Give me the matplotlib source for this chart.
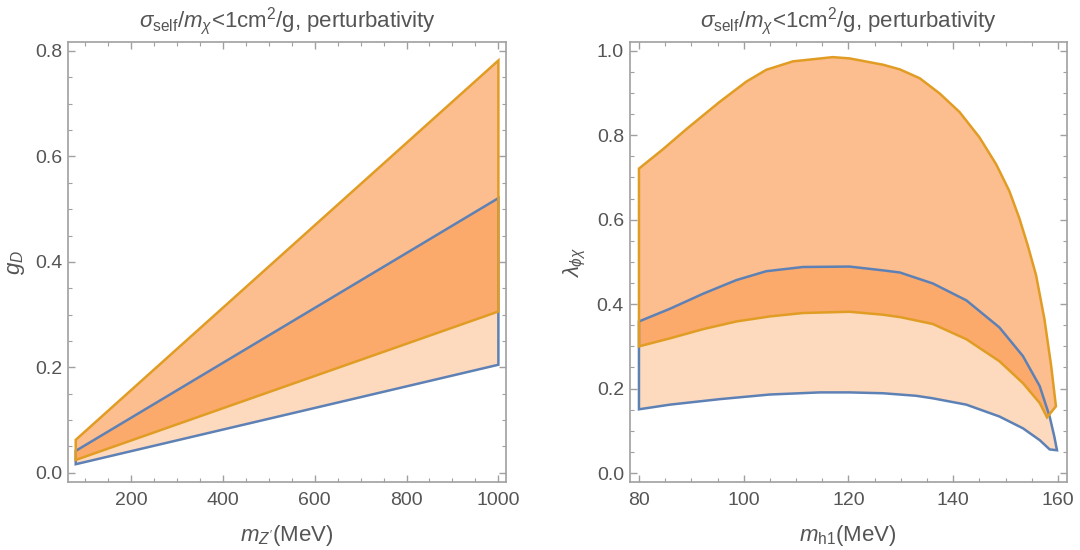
import matplotlib
matplotlib.use('Agg')
import matplotlib.pyplot as plt
import numpy as np
from matplotlib.ticker import MultipleLocator

plt.rcParams['font.family'] = ['Liberation Sans', 'DejaVu Sans']
plt.rcParams['mathtext.fontset'] = 'custom'
plt.rcParams['mathtext.rm'] = 'Liberation Sans'
plt.rcParams['mathtext.it'] = 'Liberation Sans:italic'

# left panel: g_D against m_Z' (straight boundaries, endpoints only)
mz = [80, 1000]
gd_blue_lo = [0.0164, 0.205]
gd_blue_hi = [0.0417, 0.521]
gd_orange_lo = [0.0245, 0.306]
gd_orange_hi = [0.0626, 0.782]

# right panel: lambda_phichi against m_h1
mh_blue_lo = [80, 85.9, 95.4, 105, 114.5, 120.2, 126.6, 132.9, 136.1, 142.5,
              148.8, 153.3, 156.5, 158.4, 159.8]
lam_blue_lo = [0.151, 0.162, 0.175, 0.186, 0.191, 0.191, 0.189, 0.183, 0.177,
               0.162, 0.134, 0.106, 0.078, 0.056, 0.054]
mh_blue_hi = [80, 85.9, 92.3, 98.6, 104.3, 111.3, 120.2, 126.6, 129.8, 136.1,
              142.5, 148.8, 153.3, 156.5, 158.4, 159.3, 159.8]
lam_blue_hi = [0.359, 0.389, 0.425, 0.457, 0.478, 0.488, 0.489, 0.480, 0.475,
               0.449, 0.409, 0.345, 0.277, 0.206, 0.134, 0.086, 0.054]
mh_orange_lo = [80, 85.9, 92.3, 98.6, 105, 111.3, 120.2, 126.6, 130, 136.1,
                142.5, 148.8, 153.3, 156.5, 157.9, 159.6]
lam_orange_lo = [0.300, 0.319, 0.341, 0.359, 0.371, 0.379, 0.382, 0.375, 0.369,
                 0.353, 0.317, 0.265, 0.213, 0.166, 0.132, 0.158]
mh_orange_hi = [80, 84.6, 89.1, 95.4, 100.5, 104.3, 109.4, 117.0, 120.2, 126.6,
                129.8, 133.6, 137.4, 141.2, 145.0, 148.2, 150.7, 152.6, 154.2,
                155.8, 157.4, 158.7, 159.6]
lam_orange_hi = [0.721, 0.767, 0.815, 0.879, 0.927, 0.955, 0.975, 0.985, 0.982,
                 0.967, 0.956, 0.935, 0.899, 0.855, 0.795, 0.731, 0.668, 0.604,
                 0.540, 0.469, 0.365, 0.253, 0.158]

TITLE = r'$\sigma_{\rm self}/m_\chi$<1cm$^2$/g, perturbativity'

FILL = '#fa7814'
BLUE = '#5e81b5'
ORANGE = '#e19c24'
GREY_TXT = '#555555'
GREY_FRAME = '#a0a0a0'


def region(ax, x_lo, y_lo, x_hi, y_hi, alpha):
    xs = np.r_[x_lo, x_hi[::-1]]
    ys = np.r_[y_lo, y_hi[::-1]]
    ax.fill(xs, ys, facecolor=FILL, alpha=alpha, edgecolor='none')
    return xs, ys


def style(ax, xmaj, xmin, ymaj, ymin):
    ax.xaxis.set_major_locator(MultipleLocator(xmaj))
    ax.xaxis.set_minor_locator(MultipleLocator(xmin))
    ax.yaxis.set_major_locator(MultipleLocator(ymaj))
    ax.yaxis.set_minor_locator(MultipleLocator(ymin))
    ax.tick_params(which='both', direction='in', top=True, right=True,
                   color=GREY_FRAME, labelcolor=GREY_TXT, labelsize=14)
    ax.tick_params(which='major', length=5, width=1)
    ax.tick_params(which='minor', length=3, width=0.8)
    ax.tick_params(axis='x', which='major', pad=7)
    ax.tick_params(axis='y', which='major', pad=4)
    for s in ax.spines.values():
        s.set_color(GREY_FRAME)
        s.set_linewidth(1.2)
    ax.set_title(TITLE, color=GREY_TXT, fontsize=16, pad=11)


fig = plt.figure(figsize=(10.8, 5.5), dpi=100)
ax1 = fig.add_axes([0.0628, 0.123, 0.4059, 0.8006])
ax2 = fig.add_axes([0.5829, 0.123, 0.405, 0.8])

# left
bx, by = region(ax1, mz, gd_blue_lo, mz, gd_blue_hi, 0.28)
ox, oy = region(ax1, mz, gd_orange_lo, mz, gd_orange_hi, 0.48)
ax1.fill(bx, by, facecolor='none', edgecolor=BLUE, lw=1.8)
ax1.fill(ox, oy, facecolor='none', edgecolor=ORANGE, lw=1.8)
ax1.set_xlim(62.8, 1017)
ax1.set_ylim(-0.018, 0.817)
style(ax1, 200, 50, 0.2, 0.05)
ax1.set_xlabel(r"$m_{Z'}$(MeV)", color=GREY_TXT, fontsize=16, labelpad=10)
ax1.set_ylabel(r'$g_D$', color=GREY_TXT, fontsize=16, labelpad=6)

# right
bx, by = region(ax2, mh_blue_lo, lam_blue_lo, mh_blue_hi, lam_blue_hi, 0.28)
ox, oy = region(ax2, mh_orange_lo, lam_orange_lo, mh_orange_hi, lam_orange_hi, 0.48)
ax2.fill(bx, by, facecolor='none', edgecolor=BLUE, lw=1.8)
ax2.fill(ox, oy, facecolor='none', edgecolor=ORANGE, lw=1.8)
ax2.set_xlim(78.2, 161.7)
ax2.set_ylim(-0.022, 1.02)
style(ax2, 20, 5, 0.2, 0.05)
ax2.set_xlabel(r'$m_{\rm h1}$(MeV)', color=GREY_TXT, fontsize=16, labelpad=10)
ax2.set_ylabel(r'$\lambda_{\phi\chi}$', color=GREY_TXT, fontsize=16, labelpad=6)

fig.savefig('out.png', dpi=100)
